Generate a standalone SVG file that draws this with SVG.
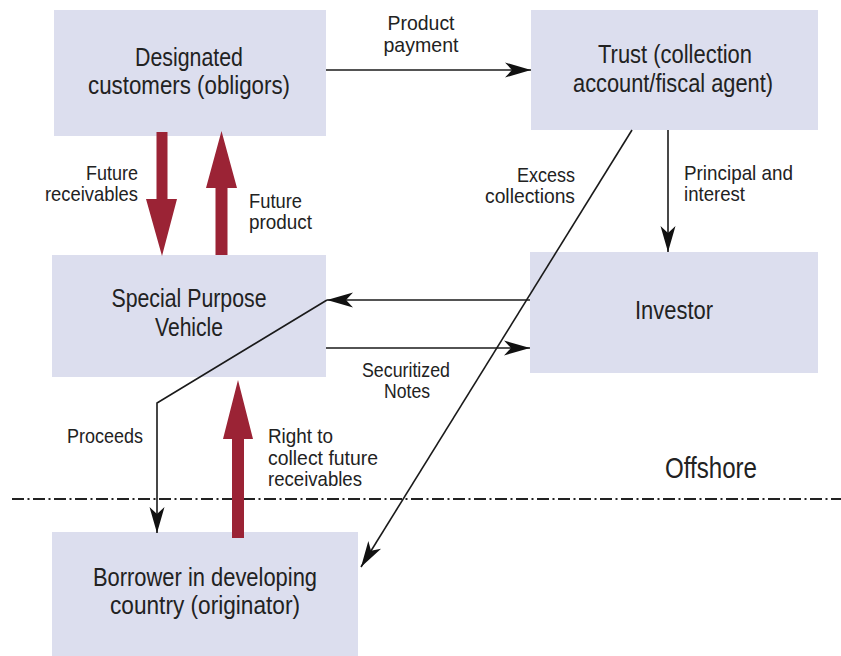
<svg xmlns="http://www.w3.org/2000/svg" width="841" height="656" viewBox="0 0 841 656">
  <style>
    .box { fill: #dcdeee; }
    text { font-family: "Liberation Sans", Arial, sans-serif; fill: #222; }
    .node { font-size: 25px; text-anchor: middle; }
    .lbl { font-size: 21px; }
    .mid { text-anchor: middle; }
    .end { text-anchor: end; }
    .zone { font-size: 29px; text-anchor: middle; }
    .wire { fill: none; stroke: #1a1a1a; stroke-width: 1.6; }
    .big { fill: #9b2335; }
  </style>
  <defs>
    <marker id="head" markerUnits="userSpaceOnUse" markerWidth="30" markerHeight="20" viewBox="-28 -10 30 20" refX="0" refY="0" orient="auto">
      <path d="M0,0 L-26,-7.5 L-19,0 L-26,7.5 Z" fill="#111"/>
    </marker>
  </defs>
  <rect width="841" height="656" fill="#fff"/>

  <!-- boundary between onshore and offshore -->
  <line x1="12" y1="499" x2="841" y2="499" stroke="#222" stroke-width="2" stroke-dasharray="12 3.5 2 3.5"/>
  <text class="zone" x="711" y="478" textLength="92" lengthAdjust="spacingAndGlyphs">Offshore</text>

  <g id="customers">
    <rect class="box" x="54" y="10" width="272" height="126"/>
    <text class="node" x="189" y="66" textLength="108" lengthAdjust="spacingAndGlyphs">Designated</text>
    <text class="node" x="189" y="94" textLength="202" lengthAdjust="spacingAndGlyphs">customers (obligors)</text>
  </g>
  <g id="trust">
    <rect class="box" x="531" y="10" width="287" height="120"/>
    <text class="node" x="675" y="63" textLength="154" lengthAdjust="spacingAndGlyphs">Trust (collection</text>
    <text class="node" x="673" y="92" textLength="200" lengthAdjust="spacingAndGlyphs">account/fiscal agent)</text>
  </g>
  <g id="spv">
    <rect class="box" x="52" y="255" width="274" height="122"/>
    <text class="node" x="189" y="307" textLength="155" lengthAdjust="spacingAndGlyphs">Special Purpose</text>
    <text class="node" x="189" y="336" textLength="68" lengthAdjust="spacingAndGlyphs">Vehicle</text>
  </g>
  <g id="investor">
    <rect class="box" x="530" y="252" width="288" height="121"/>
    <text class="node" x="674" y="319" textLength="78" lengthAdjust="spacingAndGlyphs">Investor</text>
  </g>
  <g id="borrower">
    <rect class="box" x="52" y="532" width="306" height="124"/>
    <text class="node" x="205" y="586" textLength="224" lengthAdjust="spacingAndGlyphs">Borrower in developing</text>
    <text class="node" x="205" y="614" textLength="190" lengthAdjust="spacingAndGlyphs">country (originator)</text>
  </g>

  <g id="connectors">
    <!-- product flows (thick) -->
    <polygon class="big" points="156.5,132 167.5,132 167.5,199 177,199 162,256 146,199 156.5,199"/>
    <polygon class="big" points="215.5,255 227.5,255 227.5,188 237,188 221.5,131 206,188 215.5,188"/>
    <polygon class="big" points="232,538 244,538 244,439 253,439 238,380 223,439 232,439"/>

    <!-- cash flows -->
    <line class="wire" x1="326" y1="70" x2="531" y2="70" marker-end="url(#head)"/>
    <line class="wire" x1="668" y1="130" x2="668" y2="252" marker-end="url(#head)"/>
    <line class="wire" x1="530" y1="300" x2="327" y2="300" marker-end="url(#head)"/>
    <line class="wire" x1="326" y1="348" x2="530" y2="348" marker-end="url(#head)"/>
    <polyline class="wire" points="327,300 157,403 157,533" marker-end="url(#head)"/>
    <line class="wire" x1="632" y1="130" x2="361" y2="567" marker-end="url(#head)"/>
  </g>

  <g id="labels">
    <text class="lbl mid" x="421" y="30" textLength="67" lengthAdjust="spacingAndGlyphs">Product</text>
    <text class="lbl mid" x="421" y="52" textLength="75" lengthAdjust="spacingAndGlyphs">payment</text>
    <text class="lbl end" x="138" y="180" textLength="52" lengthAdjust="spacingAndGlyphs">Future</text>
    <text class="lbl end" x="138" y="201" textLength="93" lengthAdjust="spacingAndGlyphs">receivables</text>
    <text class="lbl" x="249" y="208" textLength="53" lengthAdjust="spacingAndGlyphs">Future</text>
    <text class="lbl" x="249" y="229" textLength="63" lengthAdjust="spacingAndGlyphs">product</text>
    <text class="lbl end" x="575" y="182" textLength="58" lengthAdjust="spacingAndGlyphs">Excess</text>
    <text class="lbl end" x="575" y="203" textLength="90" lengthAdjust="spacingAndGlyphs">collections</text>
    <text class="lbl" x="684" y="180" textLength="109" lengthAdjust="spacingAndGlyphs">Principal and</text>
    <text class="lbl" x="684" y="201" textLength="61" lengthAdjust="spacingAndGlyphs">interest</text>
    <text class="lbl mid" x="406" y="377" textLength="88" lengthAdjust="spacingAndGlyphs">Securitized</text>
    <text class="lbl mid" x="407" y="398" textLength="46" lengthAdjust="spacingAndGlyphs">Notes</text>
    <text class="lbl end" x="143" y="443" textLength="76" lengthAdjust="spacingAndGlyphs">Proceeds</text>
    <text class="lbl" x="268" y="443" textLength="65" lengthAdjust="spacingAndGlyphs">Right to</text>
    <text class="lbl" x="268" y="465" textLength="110" lengthAdjust="spacingAndGlyphs">collect future</text>
    <text class="lbl" x="268" y="486" textLength="94" lengthAdjust="spacingAndGlyphs">receivables</text>
  </g>
</svg>
